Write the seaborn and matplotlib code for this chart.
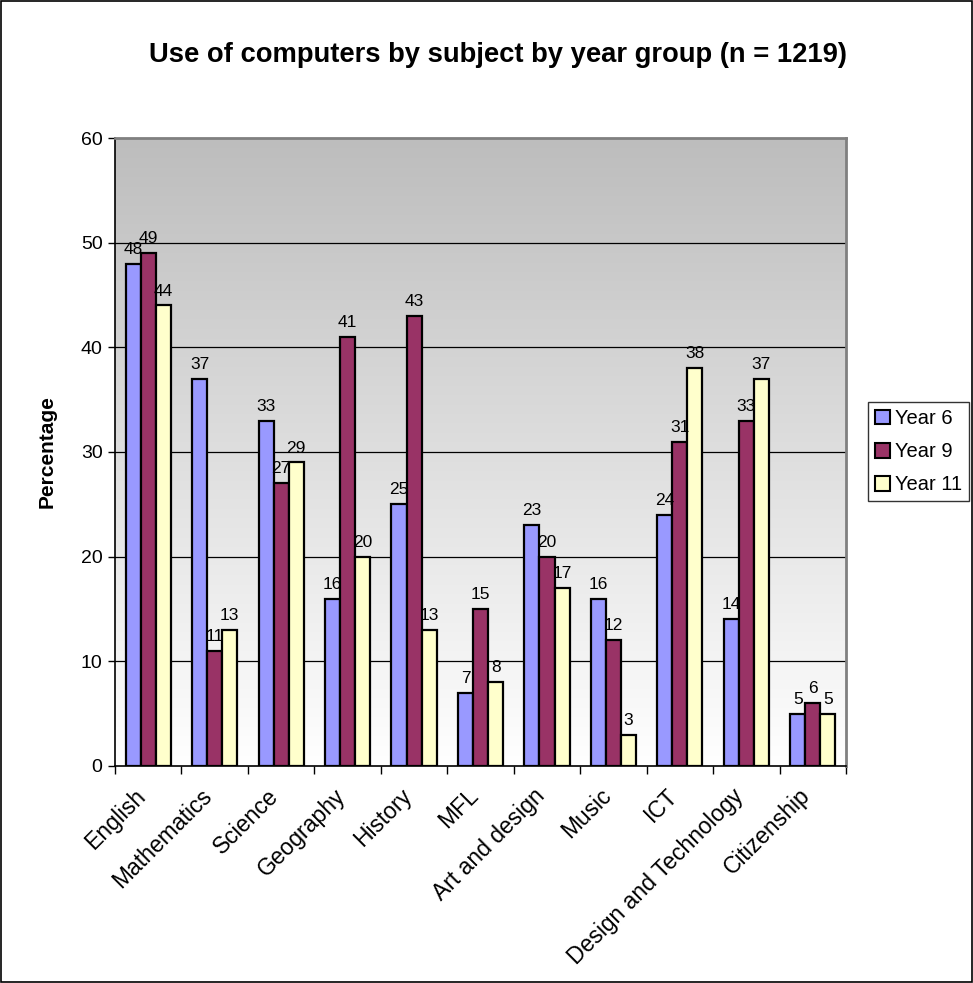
import numpy as np
import pandas as pd
import matplotlib
matplotlib.use("Agg")
import matplotlib.pyplot as plt
import matplotlib.transforms as mtransforms
import seaborn as sns
from matplotlib.patches import Rectangle
from matplotlib.colors import LinearSegmentedColormap

subjects = ["English", "Mathematics", "Science", "Geography", "History", "MFL",
            "Art and design", "Music", "ICT", "Design and Technology", "Citizenship"]
year6 = [48, 37, 33, 16, 25, 7, 23, 16, 24, 14, 5]
year9 = [49, 11, 27, 41, 43, 15, 20, 12, 31, 33, 6]
year11 = [44, 13, 29, 20, 13, 8, 17, 3, 38, 37, 5]
groups = ["Year 6", "Year 9", "Year 11"]
colors = ["#9999FF", "#993366", "#FFFFCC"]

df = pd.DataFrame({
    "Subject": subjects * 3,
    "Group": ["Year 6"] * 11 + ["Year 9"] * 11 + ["Year 11"] * 11,
    "Value": year6 + year9 + year11,
})

sns.set_theme(style="white")
plt.rcParams["font.family"] = ["Liberation Sans", "DejaVu Sans"]
plt.rcParams["text.color"] = "black"
plt.rcParams["axes.labelcolor"] = "black"
plt.rcParams["xtick.color"] = "black"
plt.rcParams["ytick.color"] = "black"

fig = plt.figure(figsize=(9.73, 9.83), dpi=100)
ax = fig.add_axes([0.1182, 0.2208, 0.7513, 0.6388])

# fondo degradado: gris arriba, blanco abajo
grad = np.linspace(0, 1, 256).reshape(-1, 1)
cmap = LinearSegmentedColormap.from_list("g", ["#FFFFFF", "#BDBDBD"])
ax.imshow(grad, cmap=cmap, extent=[-0.5, 10.5, 0, 60], aspect="auto", origin="lower", zorder=0)

for y in range(10, 60, 10):
    ax.axhline(y, color="black", lw=0.9, zorder=1)

sns.barplot(data=df, x="Subject", y="Value", hue="Group", hue_order=groups,
            palette=colors, width=0.68, saturation=1, edgecolor="black",
            linewidth=1.6, ax=ax, zorder=2, legend=False)

for c in ax.containers:
    ax.bar_label(c, labels=[f"{int(v)}" for v in c.datavalues], padding=5, fontsize=12.5)

ax.set_xlim(-0.5, 10.5)
ax.set_ylim(0, 60)
ax.set_yticks(range(0, 61, 10))
ax.tick_params(axis="y", labelsize=14, length=5, width=1, direction="out", left=True, pad=4)
ax.set_xticks(np.arange(-0.5, 10.6, 1), minor=False)
ax.set_xticklabels([])
ax.set_xticks(range(11), minor=True)
ax.set_xticklabels(subjects, minor=True, rotation=45, ha="right", va="center",
                   rotation_mode="anchor", fontsize=16.5)
ax.tick_params(axis="x", which="major", length=6, width=1, bottom=True)
ax.tick_params(axis="x", which="minor", length=0, pad=19)
# correr un poco las etiquetas hacia la izquierda
shift = mtransforms.ScaledTranslation(-6 / 100, 0, fig.dpi_scale_trans)
for lab in ax.get_xticklabels(minor=True):
    lab.set_transform(lab.get_transform() + shift)
ax.set_xlabel("")
ax.set_ylabel("Percentage", fontsize=15, fontweight="bold", labelpad=17)

for s in ["left", "bottom"]:
    ax.spines[s].set_color("black")
    ax.spines[s].set_linewidth(1.2)
for s in ["top", "right"]:
    ax.spines[s].set_color("#808080")
    ax.spines[s].set_linewidth(2)

fig.text(0.512, 0.944, "Use of computers by subject by year group (n = 1219)",
         ha="center", va="center", fontsize=19.7, fontweight="bold")

handles = [Rectangle((0, 0), 1, 1, facecolor=c, edgecolor="black", lw=1.5) for c in colors]
leg = fig.legend(handles, groups, loc="upper left", bbox_to_anchor=(0.892, 0.591),
                 fontsize=14.5, frameon=True, fancybox=False, edgecolor="black",
                 handlelength=0.75, handleheight=0.75, handletextpad=0.25,
                 labelspacing=0.7, borderpad=0.35, borderaxespad=0)
leg.get_frame().set_linewidth(1)

fig.patches.append(Rectangle((0.001, 0.001), 0.998, 0.998, transform=fig.transFigure,
                             fill=False, edgecolor="black", lw=1.2))

fig.savefig("out.png", dpi=100)
